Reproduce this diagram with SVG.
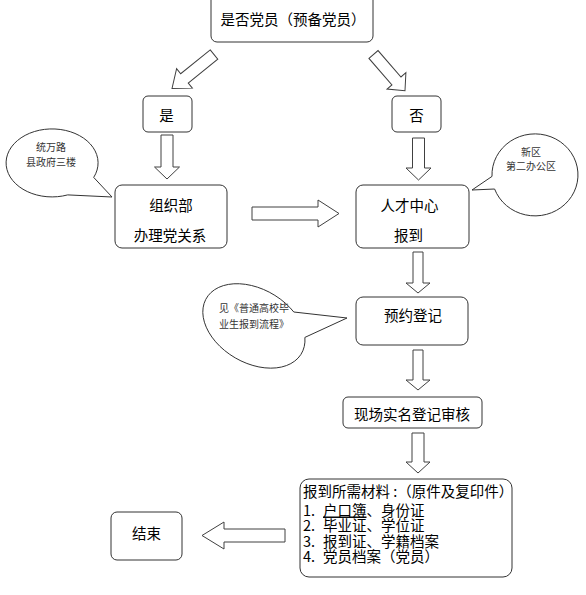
<svg xmlns="http://www.w3.org/2000/svg" width="586" height="595" viewBox="0 0 586 595">
<style>
  .box { fill: #fff; stroke: #333; stroke-width: 1; }
  .arrow { fill: #fff; stroke: #404040; stroke-width: 1; stroke-linejoin: miter; }
  .bubble { fill: #fff; stroke: #333; stroke-width: 1; }
  .t { font-family: "Noto Sans CJK SC", "Noto Sans", sans-serif; font-size: 14.5px; fill: #000; text-anchor: middle; }
  .tl { font-family: "Noto Sans CJK SC", "Noto Sans", sans-serif; font-size: 14.5px; fill: #000; }
  .s { font-family: "Noto Sans CJK SC", "Noto Sans", sans-serif; font-size: 10px; fill: #333; }
</style>
<rect x="0" y="0" width="586" height="595" fill="#fff"/>

<g id="connectors">
  <path class="arrow" transform="translate(214,54.5) rotate(51)" d="M-6,0 H6 V38 H12.5 L0,54 L-12.5,38 H-6 Z"/>
  <path class="arrow" transform="translate(373.5,54.5) rotate(-41)" d="M-6,0 H6 V35 H12.5 L0,48 L-12.5,35 H-6 Z"/>
  <polygon class="arrow" points="161,135 173,135 173,167 179.5,167 167,179 154.5,167 161,167"/>
  <polygon class="arrow" points="412.5,138 424.5,138 424.5,168 431,168 418.5,180 406,168 412.5,168"/>
  <polygon class="arrow" points="252,207 318,207 318,200 339,213.5 318,227 318,220 252,220"/>
  <polygon class="arrow" points="413,252 423,252 423,283 430,283 418,293 406,283 413,283"/>
  <polygon class="arrow" points="413,350 423,350 423,380 430,380 418,390 406,380 413,380"/>
  <polygon class="arrow" points="412,433 424,433 424,462 430,462 418,473 406,462 412,462"/>
  <polygon class="arrow" points="285,529 224,529 224,522 202,535.5 224,549 224,542 285,542"/>
</g>

<g id="node-start">
  <rect class="box" x="211" y="-8" width="162" height="50" rx="6"/>
  <text class="t" x="293" y="25">是否党员（预备党员）</text>
</g>

<g id="node-yes">
  <rect class="box" x="143" y="96" width="49" height="36" rx="5"/>
  <text class="t" x="166.5" y="121">是</text>
</g>

<g id="node-no">
  <rect class="box" x="392" y="96" width="49" height="36" rx="5"/>
  <text class="t" x="416.5" y="121">否</text>
</g>

<g id="node-org">
  <rect class="box" x="115" y="185" width="112" height="63" rx="7"/>
  <text class="t" x="171" y="210.5">组织部</text>
  <text class="t" x="170" y="240.5">办理党关系</text>
</g>

<g id="node-talent">
  <rect class="box" x="356" y="185" width="113" height="63" rx="7"/>
  <text class="t" x="409.5" y="210.5">人才中心</text>
  <text class="t" x="408.5" y="240.5">报到</text>
</g>

<g id="node-reserve">
  <rect class="box" x="356" y="297" width="112" height="48" rx="7"/>
  <text class="t" x="413" y="320.5">预约登记</text>
</g>

<g id="node-verify">
  <rect class="box" x="343" y="397" width="139" height="31" rx="5"/>
  <text class="t" x="412" y="419.5">现场实名登记审核</text>
</g>

<g id="node-materials">
  <rect class="box" x="300" y="479" width="212" height="98" rx="9"/>
  <text class="tl" x="303" y="497">报到所需材料 :（原件及复印件）</text>
  <text class="tl" y="515.5"><tspan x="303">1.</tspan><tspan x="323" text-decoration="underline">户口簿</tspan><tspan>、身份证</tspan></text>
  <text class="tl" y="531"><tspan x="303">2.</tspan><tspan x="323">毕业证、学位证</tspan></text>
  <text class="tl" y="546.5"><tspan x="303">3.</tspan><tspan x="323">报到证、学籍档案</tspan></text>
  <text class="tl" y="562"><tspan x="303">4.</tspan><tspan x="323">党员档案（党员）</tspan></text>
</g>

<g id="node-end">
  <rect class="box" x="111" y="512" width="71" height="48" rx="6"/>
  <text class="t" x="146.5" y="539">结束</text>
</g>

<g id="callout-org">
  <path class="bubble" d="M93.7,177.4 A46,34 0 1 0 67.7,194.9 L112,197 Z"/>
  <text class="s" x="51" y="151.3" text-anchor="middle">统万路</text>
  <text class="s" x="51" y="166.3" text-anchor="middle">县政府三楼</text>
</g>

<g id="callout-talent">
  <path class="bubble" d="M492,176.4 A43,41 0 1 1 494.6,189 L472,190 Z"/>
  <text class="s" x="531" y="155.8" text-anchor="middle">新区</text>
  <text class="s" x="531" y="169.8" text-anchor="middle">第二办公区</text>
</g>

<g id="callout-reserve">
  <path class="bubble" d="M293.8,312 A55,37 30 1 0 304.9,337.4 L347,318 Z"/>
  <text class="s" x="219" y="311.8">见《普通高校毕</text>
  <text class="s" x="219" y="327.8">业生报到流程》</text>
</g>
</svg>
